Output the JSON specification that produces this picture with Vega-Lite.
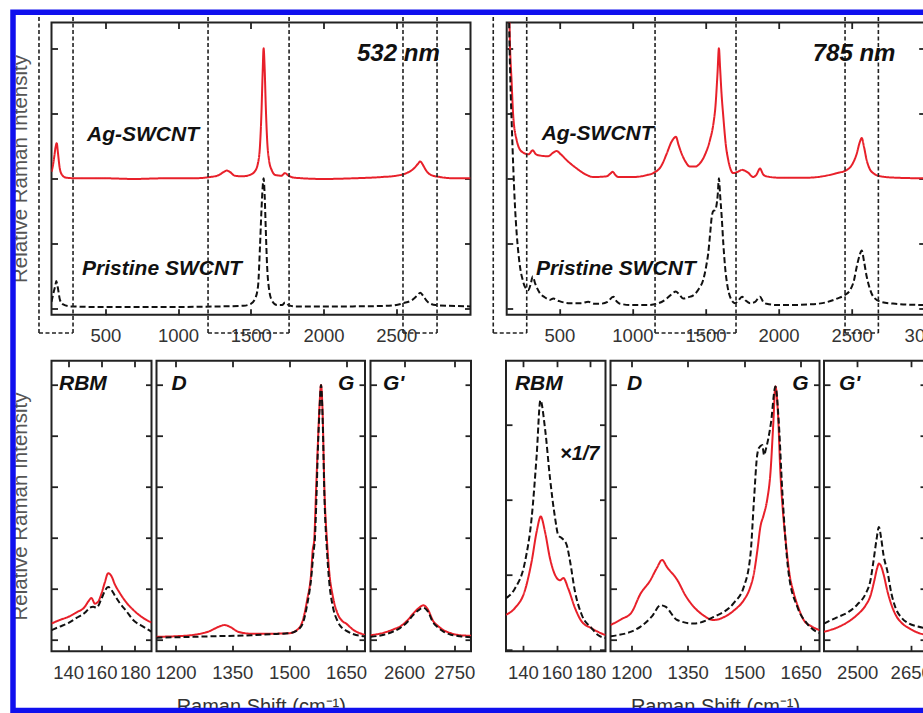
{
  "$schema": "https://vega.github.io/schema/vega-lite/v6.json",
  "autosize": {"type": "none"},
  "padding": {"left": 51.5, "top": 22.5, "right": 871.5, "bottom": 690.5},
  "background": "white",
  "datasets": {
    "top532": [
      {"shift":130,"intensity":2.1,"sample":"Ag-SWCNT"},{"shift":140,"intensity":2.2,"sample":"Ag-SWCNT"},{"shift":150,"intensity":2.35,"sample":"Ag-SWCNT"},{"shift":158,"intensity":2.48,"sample":"Ag-SWCNT"},{"shift":166,"intensity":2.54,"sample":"Ag-SWCNT"},{"shift":174,"intensity":2.4,"sample":"Ag-SWCNT"},{"shift":185,"intensity":2.18,"sample":"Ag-SWCNT"},{"shift":200,"intensity":2.06,"sample":"Ag-SWCNT"},{"shift":230,"intensity":2.01,"sample":"Ag-SWCNT"},{"shift":300,"intensity":2.0,"sample":"Ag-SWCNT"},{"shift":500,"intensity":2.0,"sample":"Ag-SWCNT"},{"shift":700,"intensity":1.99,"sample":"Ag-SWCNT"},{"shift":900,"intensity":2.0,"sample":"Ag-SWCNT"},{"shift":1100,"intensity":2.0,"sample":"Ag-SWCNT"},{"shift":1220,"intensity":2.02,"sample":"Ag-SWCNT"},{"shift":1280,"intensity":2.05,"sample":"Ag-SWCNT"},{"shift":1315,"intensity":2.1,"sample":"Ag-SWCNT"},{"shift":1335,"intensity":2.12,"sample":"Ag-SWCNT"},{"shift":1355,"intensity":2.1,"sample":"Ag-SWCNT"},{"shift":1390,"intensity":2.04,"sample":"Ag-SWCNT"},{"shift":1440,"intensity":2.03,"sample":"Ag-SWCNT"},{"shift":1490,"intensity":2.05,"sample":"Ag-SWCNT"},{"shift":1525,"intensity":2.1,"sample":"Ag-SWCNT"},{"shift":1548,"intensity":2.22,"sample":"Ag-SWCNT"},{"shift":1563,"intensity":2.5,"sample":"Ag-SWCNT"},{"shift":1573,"intensity":3.0,"sample":"Ag-SWCNT"},{"shift":1581,"intensity":3.6,"sample":"Ag-SWCNT"},{"shift":1588,"intensity":4.0,"sample":"Ag-SWCNT"},{"shift":1595,"intensity":3.7,"sample":"Ag-SWCNT"},{"shift":1603,"intensity":3.1,"sample":"Ag-SWCNT"},{"shift":1612,"intensity":2.6,"sample":"Ag-SWCNT"},{"shift":1625,"intensity":2.28,"sample":"Ag-SWCNT"},{"shift":1645,"intensity":2.12,"sample":"Ag-SWCNT"},{"shift":1670,"intensity":2.05,"sample":"Ag-SWCNT"},{"shift":1710,"intensity":2.04,"sample":"Ag-SWCNT"},{"shift":1735,"intensity":2.08,"sample":"Ag-SWCNT"},{"shift":1760,"intensity":2.04,"sample":"Ag-SWCNT"},{"shift":1800,"intensity":2.01,"sample":"Ag-SWCNT"},{"shift":2000,"intensity":1.99,"sample":"Ag-SWCNT"},{"shift":2200,"intensity":2.0,"sample":"Ag-SWCNT"},{"shift":2400,"intensity":2.02,"sample":"Ag-SWCNT"},{"shift":2500,"intensity":2.04,"sample":"Ag-SWCNT"},{"shift":2570,"intensity":2.08,"sample":"Ag-SWCNT"},{"shift":2620,"intensity":2.15,"sample":"Ag-SWCNT"},{"shift":2648,"intensity":2.22,"sample":"Ag-SWCNT"},{"shift":2665,"intensity":2.26,"sample":"Ag-SWCNT"},{"shift":2682,"intensity":2.21,"sample":"Ag-SWCNT"},{"shift":2705,"intensity":2.12,"sample":"Ag-SWCNT"},{"shift":2740,"intensity":2.05,"sample":"Ag-SWCNT"},{"shift":2800,"intensity":2.02,"sample":"Ag-SWCNT"},{"shift":2900,"intensity":2.0,"sample":"Ag-SWCNT"},{"shift":3010,"intensity":2.0,"sample":"Ag-SWCNT"},
      {"shift":130,"intensity":0.1,"sample":"Pristine SWCNT"},{"shift":145,"intensity":0.25,"sample":"Pristine SWCNT"},{"shift":157,"intensity":0.36,"sample":"Pristine SWCNT"},{"shift":163,"intensity":0.42,"sample":"Pristine SWCNT"},{"shift":168,"intensity":0.38,"sample":"Pristine SWCNT"},{"shift":175,"intensity":0.3,"sample":"Pristine SWCNT"},{"shift":188,"intensity":0.13,"sample":"Pristine SWCNT"},{"shift":210,"intensity":0.06,"sample":"Pristine SWCNT"},{"shift":260,"intensity":0.03,"sample":"Pristine SWCNT"},{"shift":500,"intensity":0.02,"sample":"Pristine SWCNT"},{"shift":900,"intensity":0.02,"sample":"Pristine SWCNT"},{"shift":1300,"intensity":0.03,"sample":"Pristine SWCNT"},{"shift":1450,"intensity":0.04,"sample":"Pristine SWCNT"},{"shift":1500,"intensity":0.07,"sample":"Pristine SWCNT"},{"shift":1530,"intensity":0.15,"sample":"Pristine SWCNT"},{"shift":1550,"intensity":0.35,"sample":"Pristine SWCNT"},{"shift":1563,"intensity":0.95,"sample":"Pristine SWCNT"},{"shift":1573,"intensity":1.5,"sample":"Pristine SWCNT"},{"shift":1581,"intensity":1.85,"sample":"Pristine SWCNT"},{"shift":1588,"intensity":2.0,"sample":"Pristine SWCNT"},{"shift":1595,"intensity":1.75,"sample":"Pristine SWCNT"},{"shift":1603,"intensity":1.2,"sample":"Pristine SWCNT"},{"shift":1612,"intensity":0.65,"sample":"Pristine SWCNT"},{"shift":1625,"intensity":0.3,"sample":"Pristine SWCNT"},{"shift":1645,"intensity":0.12,"sample":"Pristine SWCNT"},{"shift":1680,"intensity":0.05,"sample":"Pristine SWCNT"},{"shift":1715,"intensity":0.05,"sample":"Pristine SWCNT"},{"shift":1735,"intensity":0.09,"sample":"Pristine SWCNT"},{"shift":1760,"intensity":0.05,"sample":"Pristine SWCNT"},{"shift":1800,"intensity":0.03,"sample":"Pristine SWCNT"},{"shift":2200,"intensity":0.03,"sample":"Pristine SWCNT"},{"shift":2450,"intensity":0.04,"sample":"Pristine SWCNT"},{"shift":2550,"intensity":0.08,"sample":"Pristine SWCNT"},{"shift":2610,"intensity":0.13,"sample":"Pristine SWCNT"},{"shift":2645,"intensity":0.2,"sample":"Pristine SWCNT"},{"shift":2665,"intensity":0.24,"sample":"Pristine SWCNT"},{"shift":2688,"intensity":0.18,"sample":"Pristine SWCNT"},{"shift":2715,"intensity":0.1,"sample":"Pristine SWCNT"},{"shift":2770,"intensity":0.05,"sample":"Pristine SWCNT"},{"shift":3010,"intensity":0.03,"sample":"Pristine SWCNT"}
    ],
    "top785": [
      {"shift":140,"intensity":7.0,"sample":"Ag-SWCNT"},{"shift":152,"intensity":5.5,"sample":"Ag-SWCNT"},{"shift":160,"intensity":4.3,"sample":"Ag-SWCNT"},{"shift":174,"intensity":3.47,"sample":"Ag-SWCNT"},{"shift":185,"intensity":2.95,"sample":"Ag-SWCNT"},{"shift":208,"intensity":2.59,"sample":"Ag-SWCNT"},{"shift":243,"intensity":2.41,"sample":"Ag-SWCNT"},{"shift":290,"intensity":2.37,"sample":"Ag-SWCNT"},{"shift":318,"intensity":2.43,"sample":"Ag-SWCNT"},{"shift":340,"intensity":2.37,"sample":"Ag-SWCNT"},{"shift":368,"intensity":2.35,"sample":"Ag-SWCNT"},{"shift":425,"intensity":2.34,"sample":"Ag-SWCNT"},{"shift":455,"intensity":2.39,"sample":"Ag-SWCNT"},{"shift":482,"intensity":2.42,"sample":"Ag-SWCNT"},{"shift":510,"intensity":2.37,"sample":"Ag-SWCNT"},{"shift":550,"intensity":2.28,"sample":"Ag-SWCNT"},{"shift":620,"intensity":2.15,"sample":"Ag-SWCNT"},{"shift":680,"intensity":2.06,"sample":"Ag-SWCNT"},{"shift":733,"intensity":2.02,"sample":"Ag-SWCNT"},{"shift":824,"intensity":2.03,"sample":"Ag-SWCNT"},{"shift":848,"intensity":2.07,"sample":"Ag-SWCNT"},{"shift":865,"intensity":2.1,"sample":"Ag-SWCNT"},{"shift":884,"intensity":2.05,"sample":"Ag-SWCNT"},{"shift":904,"intensity":2.02,"sample":"Ag-SWCNT"},{"shift":1006,"intensity":2.02,"sample":"Ag-SWCNT"},{"shift":1100,"intensity":2.05,"sample":"Ag-SWCNT"},{"shift":1143,"intensity":2.08,"sample":"Ag-SWCNT"},{"shift":1200,"intensity":2.2,"sample":"Ag-SWCNT"},{"shift":1235,"intensity":2.38,"sample":"Ag-SWCNT"},{"shift":1265,"intensity":2.55,"sample":"Ag-SWCNT"},{"shift":1285,"intensity":2.62,"sample":"Ag-SWCNT"},{"shift":1298,"intensity":2.64,"sample":"Ag-SWCNT"},{"shift":1315,"intensity":2.52,"sample":"Ag-SWCNT"},{"shift":1337,"intensity":2.38,"sample":"Ag-SWCNT"},{"shift":1365,"intensity":2.25,"sample":"Ag-SWCNT"},{"shift":1394,"intensity":2.18,"sample":"Ag-SWCNT"},{"shift":1430,"intensity":2.18,"sample":"Ag-SWCNT"},{"shift":1462,"intensity":2.23,"sample":"Ag-SWCNT"},{"shift":1500,"intensity":2.38,"sample":"Ag-SWCNT"},{"shift":1531,"intensity":2.59,"sample":"Ag-SWCNT"},{"shift":1555,"intensity":2.85,"sample":"Ag-SWCNT"},{"shift":1568,"intensity":3.1,"sample":"Ag-SWCNT"},{"shift":1582,"intensity":3.6,"sample":"Ag-SWCNT"},{"shift":1592,"intensity":4.0,"sample":"Ag-SWCNT"},{"shift":1600,"intensity":3.7,"sample":"Ag-SWCNT"},{"shift":1610,"intensity":3.3,"sample":"Ag-SWCNT"},{"shift":1622,"intensity":2.95,"sample":"Ag-SWCNT"},{"shift":1640,"intensity":2.5,"sample":"Ag-SWCNT"},{"shift":1656,"intensity":2.28,"sample":"Ag-SWCNT"},{"shift":1690,"intensity":2.08,"sample":"Ag-SWCNT"},{"shift":1720,"intensity":2.1,"sample":"Ag-SWCNT"},{"shift":1750,"intensity":2.13,"sample":"Ag-SWCNT"},{"shift":1790,"intensity":2.09,"sample":"Ag-SWCNT"},{"shift":1827,"intensity":2.02,"sample":"Ag-SWCNT"},{"shift":1850,"intensity":2.06,"sample":"Ag-SWCNT"},{"shift":1873,"intensity":2.15,"sample":"Ag-SWCNT"},{"shift":1895,"intensity":2.06,"sample":"Ag-SWCNT"},{"shift":1919,"intensity":2.03,"sample":"Ag-SWCNT"},{"shift":2000,"intensity":2.01,"sample":"Ag-SWCNT"},{"shift":2200,"intensity":2.01,"sample":"Ag-SWCNT"},{"shift":2300,"intensity":2.03,"sample":"Ag-SWCNT"},{"shift":2398,"intensity":2.08,"sample":"Ag-SWCNT"},{"shift":2460,"intensity":2.12,"sample":"Ag-SWCNT"},{"shift":2500,"intensity":2.2,"sample":"Ag-SWCNT"},{"shift":2535,"intensity":2.38,"sample":"Ag-SWCNT"},{"shift":2555,"intensity":2.55,"sample":"Ag-SWCNT"},{"shift":2569,"intensity":2.62,"sample":"Ag-SWCNT"},{"shift":2585,"intensity":2.48,"sample":"Ag-SWCNT"},{"shift":2603,"intensity":2.28,"sample":"Ag-SWCNT"},{"shift":2625,"intensity":2.14,"sample":"Ag-SWCNT"},{"shift":2648,"intensity":2.08,"sample":"Ag-SWCNT"},{"shift":2700,"intensity":2.03,"sample":"Ag-SWCNT"},{"shift":2800,"intensity":2.01,"sample":"Ag-SWCNT"},{"shift":3000,"intensity":2.0,"sample":"Ag-SWCNT"},
      {"shift":140,"intensity":8.0,"sample":"Pristine SWCNT"},{"shift":156,"intensity":4.5,"sample":"Pristine SWCNT"},{"shift":165,"intensity":3.5,"sample":"Pristine SWCNT"},{"shift":175,"intensity":2.8,"sample":"Pristine SWCNT"},{"shift":185,"intensity":2.17,"sample":"Pristine SWCNT"},{"shift":196,"intensity":1.6,"sample":"Pristine SWCNT"},{"shift":208,"intensity":1.16,"sample":"Pristine SWCNT"},{"shift":220,"intensity":0.85,"sample":"Pristine SWCNT"},{"shift":231,"intensity":0.64,"sample":"Pristine SWCNT"},{"shift":248,"intensity":0.45,"sample":"Pristine SWCNT"},{"shift":265,"intensity":0.33,"sample":"Pristine SWCNT"},{"shift":288,"intensity":0.28,"sample":"Pristine SWCNT"},{"shift":305,"intensity":0.38,"sample":"Pristine SWCNT"},{"shift":318,"intensity":0.49,"sample":"Pristine SWCNT"},{"shift":335,"intensity":0.38,"sample":"Pristine SWCNT"},{"shift":368,"intensity":0.23,"sample":"Pristine SWCNT"},{"shift":400,"intensity":0.17,"sample":"Pristine SWCNT"},{"shift":436,"intensity":0.13,"sample":"Pristine SWCNT"},{"shift":459,"intensity":0.15,"sample":"Pristine SWCNT"},{"shift":500,"intensity":0.11,"sample":"Pristine SWCNT"},{"shift":573,"intensity":0.08,"sample":"Pristine SWCNT"},{"shift":650,"intensity":0.08,"sample":"Pristine SWCNT"},{"shift":698,"intensity":0.1,"sample":"Pristine SWCNT"},{"shift":740,"intensity":0.07,"sample":"Pristine SWCNT"},{"shift":778,"intensity":0.07,"sample":"Pristine SWCNT"},{"shift":830,"intensity":0.1,"sample":"Pristine SWCNT"},{"shift":869,"intensity":0.18,"sample":"Pristine SWCNT"},{"shift":895,"intensity":0.1,"sample":"Pristine SWCNT"},{"shift":915,"intensity":0.07,"sample":"Pristine SWCNT"},{"shift":1000,"intensity":0.05,"sample":"Pristine SWCNT"},{"shift":1099,"intensity":0.05,"sample":"Pristine SWCNT"},{"shift":1180,"intensity":0.08,"sample":"Pristine SWCNT"},{"shift":1235,"intensity":0.15,"sample":"Pristine SWCNT"},{"shift":1270,"intensity":0.22,"sample":"Pristine SWCNT"},{"shift":1298,"intensity":0.26,"sample":"Pristine SWCNT"},{"shift":1325,"intensity":0.2,"sample":"Pristine SWCNT"},{"shift":1348,"intensity":0.15,"sample":"Pristine SWCNT"},{"shift":1380,"intensity":0.17,"sample":"Pristine SWCNT"},{"shift":1417,"intensity":0.2,"sample":"Pristine SWCNT"},{"shift":1455,"intensity":0.3,"sample":"Pristine SWCNT"},{"shift":1485,"intensity":0.44,"sample":"Pristine SWCNT"},{"shift":1505,"intensity":0.65,"sample":"Pristine SWCNT"},{"shift":1519,"intensity":0.85,"sample":"Pristine SWCNT"},{"shift":1532,"intensity":1.15,"sample":"Pristine SWCNT"},{"shift":1543,"intensity":1.41,"sample":"Pristine SWCNT"},{"shift":1555,"intensity":1.5,"sample":"Pristine SWCNT"},{"shift":1565,"intensity":1.51,"sample":"Pristine SWCNT"},{"shift":1575,"intensity":1.58,"sample":"Pristine SWCNT"},{"shift":1584,"intensity":1.75,"sample":"Pristine SWCNT"},{"shift":1592,"intensity":2.0,"sample":"Pristine SWCNT"},{"shift":1600,"intensity":1.75,"sample":"Pristine SWCNT"},{"shift":1611,"intensity":1.41,"sample":"Pristine SWCNT"},{"shift":1622,"intensity":1.0,"sample":"Pristine SWCNT"},{"shift":1634,"intensity":0.64,"sample":"Pristine SWCNT"},{"shift":1650,"intensity":0.35,"sample":"Pristine SWCNT"},{"shift":1668,"intensity":0.18,"sample":"Pristine SWCNT"},{"shift":1702,"intensity":0.08,"sample":"Pristine SWCNT"},{"shift":1725,"intensity":0.12,"sample":"Pristine SWCNT"},{"shift":1750,"intensity":0.18,"sample":"Pristine SWCNT"},{"shift":1775,"intensity":0.12,"sample":"Pristine SWCNT"},{"shift":1805,"intensity":0.08,"sample":"Pristine SWCNT"},{"shift":1840,"intensity":0.1,"sample":"Pristine SWCNT"},{"shift":1873,"intensity":0.18,"sample":"Pristine SWCNT"},{"shift":1895,"intensity":0.1,"sample":"Pristine SWCNT"},{"shift":1919,"intensity":0.07,"sample":"Pristine SWCNT"},{"shift":2000,"intensity":0.05,"sample":"Pristine SWCNT"},{"shift":2100,"intensity":0.05,"sample":"Pristine SWCNT"},{"shift":2200,"intensity":0.06,"sample":"Pristine SWCNT"},{"shift":2300,"intensity":0.08,"sample":"Pristine SWCNT"},{"shift":2400,"intensity":0.15,"sample":"Pristine SWCNT"},{"shift":2450,"intensity":0.2,"sample":"Pristine SWCNT"},{"shift":2489,"intensity":0.28,"sample":"Pristine SWCNT"},{"shift":2515,"intensity":0.42,"sample":"Pristine SWCNT"},{"shift":2535,"intensity":0.64,"sample":"Pristine SWCNT"},{"shift":2555,"intensity":0.82,"sample":"Pristine SWCNT"},{"shift":2569,"intensity":0.89,"sample":"Pristine SWCNT"},{"shift":2585,"intensity":0.72,"sample":"Pristine SWCNT"},{"shift":2603,"intensity":0.49,"sample":"Pristine SWCNT"},{"shift":2625,"intensity":0.3,"sample":"Pristine SWCNT"},{"shift":2648,"intensity":0.18,"sample":"Pristine SWCNT"},{"shift":2700,"intensity":0.1,"sample":"Pristine SWCNT"},{"shift":2800,"intensity":0.07,"sample":"Pristine SWCNT"},{"shift":3000,"intensity":0.05,"sample":"Pristine SWCNT"}
    ],
    "rbm532": [
      {"shift":130,"intensity":0.31,"sample":"Ag-SWCNT"},{"shift":135,"intensity":0.38,"sample":"Ag-SWCNT"},{"shift":140,"intensity":0.44,"sample":"Ag-SWCNT"},{"shift":145,"intensity":0.53,"sample":"Ag-SWCNT"},{"shift":150,"intensity":0.64,"sample":"Ag-SWCNT"},{"shift":152,"intensity":0.74,"sample":"Ag-SWCNT"},{"shift":154,"intensity":0.81,"sample":"Ag-SWCNT"},{"shift":156,"intensity":0.7,"sample":"Ag-SWCNT"},{"shift":158,"intensity":0.74,"sample":"Ag-SWCNT"},{"shift":160,"intensity":0.9,"sample":"Ag-SWCNT"},{"shift":162,"intensity":1.12,"sample":"Ag-SWCNT"},{"shift":164,"intensity":1.3,"sample":"Ag-SWCNT"},{"shift":166,"intensity":1.24,"sample":"Ag-SWCNT"},{"shift":168,"intensity":1.08,"sample":"Ag-SWCNT"},{"shift":171,"intensity":0.91,"sample":"Ag-SWCNT"},{"shift":175,"intensity":0.72,"sample":"Ag-SWCNT"},{"shift":179,"intensity":0.58,"sample":"Ag-SWCNT"},{"shift":185,"intensity":0.42,"sample":"Ag-SWCNT"},{"shift":190,"intensity":0.33,"sample":"Ag-SWCNT"},
      {"shift":130,"intensity":0.18,"sample":"Pristine SWCNT"},{"shift":135,"intensity":0.25,"sample":"Pristine SWCNT"},{"shift":140,"intensity":0.32,"sample":"Pristine SWCNT"},{"shift":145,"intensity":0.42,"sample":"Pristine SWCNT"},{"shift":150,"intensity":0.52,"sample":"Pristine SWCNT"},{"shift":153,"intensity":0.62,"sample":"Pristine SWCNT"},{"shift":155,"intensity":0.64,"sample":"Pristine SWCNT"},{"shift":157,"intensity":0.62,"sample":"Pristine SWCNT"},{"shift":160,"intensity":0.8,"sample":"Pristine SWCNT"},{"shift":162,"intensity":0.95,"sample":"Pristine SWCNT"},{"shift":164,"intensity":1.03,"sample":"Pristine SWCNT"},{"shift":166,"intensity":0.97,"sample":"Pristine SWCNT"},{"shift":168,"intensity":0.86,"sample":"Pristine SWCNT"},{"shift":171,"intensity":0.71,"sample":"Pristine SWCNT"},{"shift":175,"intensity":0.55,"sample":"Pristine SWCNT"},{"shift":179,"intensity":0.38,"sample":"Pristine SWCNT"},{"shift":185,"intensity":0.25,"sample":"Pristine SWCNT"},{"shift":190,"intensity":0.15,"sample":"Pristine SWCNT"}
    ],
    "dg532": [
      {"shift":1150,"intensity":0.05,"sample":"Ag-SWCNT"},{"shift":1200,"intensity":0.06,"sample":"Ag-SWCNT"},{"shift":1250,"intensity":0.09,"sample":"Ag-SWCNT"},{"shift":1290,"intensity":0.16,"sample":"Ag-SWCNT"},{"shift":1315,"intensity":0.25,"sample":"Ag-SWCNT"},{"shift":1330,"intensity":0.28,"sample":"Ag-SWCNT"},{"shift":1345,"intensity":0.24,"sample":"Ag-SWCNT"},{"shift":1365,"intensity":0.15,"sample":"Ag-SWCNT"},{"shift":1400,"intensity":0.11,"sample":"Ag-SWCNT"},{"shift":1450,"intensity":0.11,"sample":"Ag-SWCNT"},{"shift":1500,"intensity":0.12,"sample":"Ag-SWCNT"},{"shift":1520,"intensity":0.18,"sample":"Ag-SWCNT"},{"shift":1535,"intensity":0.35,"sample":"Ag-SWCNT"},{"shift":1548,"intensity":0.8,"sample":"Ag-SWCNT"},{"shift":1558,"intensity":1.3,"sample":"Ag-SWCNT"},{"shift":1562,"intensity":1.75,"sample":"Ag-SWCNT"},{"shift":1566,"intensity":1.95,"sample":"Ag-SWCNT"},{"shift":1571,"intensity":2.94,"sample":"Ag-SWCNT"},{"shift":1576,"intensity":3.9,"sample":"Ag-SWCNT"},{"shift":1580,"intensity":4.6,"sample":"Ag-SWCNT"},{"shift":1584,"intensity":5.0,"sample":"Ag-SWCNT"},{"shift":1588,"intensity":4.5,"sample":"Ag-SWCNT"},{"shift":1593,"intensity":2.94,"sample":"Ag-SWCNT"},{"shift":1600,"intensity":1.9,"sample":"Ag-SWCNT"},{"shift":1606,"intensity":1.3,"sample":"Ag-SWCNT"},{"shift":1615,"intensity":0.85,"sample":"Ag-SWCNT"},{"shift":1628,"intensity":0.5,"sample":"Ag-SWCNT"},{"shift":1640,"intensity":0.36,"sample":"Ag-SWCNT"},{"shift":1650,"intensity":0.31,"sample":"Ag-SWCNT"},{"shift":1670,"intensity":0.18,"sample":"Ag-SWCNT"},{"shift":1700,"intensity":0.09,"sample":"Ag-SWCNT"},
      {"shift":1150,"intensity":0.03,"sample":"Pristine SWCNT"},{"shift":1200,"intensity":0.04,"sample":"Pristine SWCNT"},{"shift":1300,"intensity":0.06,"sample":"Pristine SWCNT"},{"shift":1400,"intensity":0.08,"sample":"Pristine SWCNT"},{"shift":1450,"intensity":0.1,"sample":"Pristine SWCNT"},{"shift":1500,"intensity":0.12,"sample":"Pristine SWCNT"},{"shift":1520,"intensity":0.17,"sample":"Pristine SWCNT"},{"shift":1535,"intensity":0.3,"sample":"Pristine SWCNT"},{"shift":1548,"intensity":0.7,"sample":"Pristine SWCNT"},{"shift":1558,"intensity":1.2,"sample":"Pristine SWCNT"},{"shift":1564,"intensity":1.7,"sample":"Pristine SWCNT"},{"shift":1568,"intensity":2.0,"sample":"Pristine SWCNT"},{"shift":1572,"intensity":2.8,"sample":"Pristine SWCNT"},{"shift":1576,"intensity":3.8,"sample":"Pristine SWCNT"},{"shift":1580,"intensity":4.5,"sample":"Pristine SWCNT"},{"shift":1584,"intensity":5.0,"sample":"Pristine SWCNT"},{"shift":1588,"intensity":4.4,"sample":"Pristine SWCNT"},{"shift":1593,"intensity":2.8,"sample":"Pristine SWCNT"},{"shift":1600,"intensity":1.7,"sample":"Pristine SWCNT"},{"shift":1606,"intensity":1.1,"sample":"Pristine SWCNT"},{"shift":1615,"intensity":0.65,"sample":"Pristine SWCNT"},{"shift":1628,"intensity":0.35,"sample":"Pristine SWCNT"},{"shift":1640,"intensity":0.22,"sample":"Pristine SWCNT"},{"shift":1650,"intensity":0.17,"sample":"Pristine SWCNT"},{"shift":1670,"intensity":0.1,"sample":"Pristine SWCNT"},{"shift":1700,"intensity":0.06,"sample":"Pristine SWCNT"}
    ],
    "gp532": [
      {"shift":2500,"intensity":0.08,"sample":"Ag-SWCNT"},{"shift":2540,"intensity":0.13,"sample":"Ag-SWCNT"},{"shift":2570,"intensity":0.2,"sample":"Ag-SWCNT"},{"shift":2588,"intensity":0.25,"sample":"Ag-SWCNT"},{"shift":2610,"intensity":0.37,"sample":"Ag-SWCNT"},{"shift":2628,"intensity":0.51,"sample":"Ag-SWCNT"},{"shift":2645,"intensity":0.62,"sample":"Ag-SWCNT"},{"shift":2658,"intensity":0.67,"sample":"Ag-SWCNT"},{"shift":2670,"intensity":0.6,"sample":"Ag-SWCNT"},{"shift":2688,"intensity":0.35,"sample":"Ag-SWCNT"},{"shift":2700,"intensity":0.27,"sample":"Ag-SWCNT"},{"shift":2718,"intensity":0.18,"sample":"Ag-SWCNT"},{"shift":2740,"intensity":0.12,"sample":"Ag-SWCNT"},{"shift":2767,"intensity":0.08,"sample":"Ag-SWCNT"},{"shift":2800,"intensity":0.07,"sample":"Ag-SWCNT"},
      {"shift":2500,"intensity":0.05,"sample":"Pristine SWCNT"},{"shift":2540,"intensity":0.09,"sample":"Pristine SWCNT"},{"shift":2570,"intensity":0.16,"sample":"Pristine SWCNT"},{"shift":2588,"intensity":0.22,"sample":"Pristine SWCNT"},{"shift":2610,"intensity":0.34,"sample":"Pristine SWCNT"},{"shift":2628,"intensity":0.48,"sample":"Pristine SWCNT"},{"shift":2645,"intensity":0.58,"sample":"Pristine SWCNT"},{"shift":2658,"intensity":0.62,"sample":"Pristine SWCNT"},{"shift":2670,"intensity":0.56,"sample":"Pristine SWCNT"},{"shift":2688,"intensity":0.32,"sample":"Pristine SWCNT"},{"shift":2700,"intensity":0.24,"sample":"Pristine SWCNT"},{"shift":2718,"intensity":0.15,"sample":"Pristine SWCNT"},{"shift":2740,"intensity":0.09,"sample":"Pristine SWCNT"},{"shift":2767,"intensity":0.06,"sample":"Pristine SWCNT"},{"shift":2800,"intensity":0.04,"sample":"Pristine SWCNT"}
    ],
    "rbm785": [
      {"shift":130,"intensity":0.47,"sample":"Ag-SWCNT"},{"shift":135.3,"intensity":0.56,"sample":"Ag-SWCNT"},{"shift":141.3,"intensity":0.8,"sample":"Ag-SWCNT"},{"shift":145.2,"intensity":1.18,"sample":"Ag-SWCNT"},{"shift":148.2,"intensity":1.58,"sample":"Ag-SWCNT"},{"shift":150.6,"intensity":1.78,"sample":"Ag-SWCNT"},{"shift":153.1,"intensity":1.58,"sample":"Ag-SWCNT"},{"shift":156.1,"intensity":1.22,"sample":"Ag-SWCNT"},{"shift":159.1,"intensity":1.0,"sample":"Ag-SWCNT"},{"shift":162,"intensity":0.93,"sample":"Ag-SWCNT"},{"shift":164,"intensity":0.96,"sample":"Ag-SWCNT"},{"shift":166.9,"intensity":0.82,"sample":"Ag-SWCNT"},{"shift":170.9,"intensity":0.56,"sample":"Ag-SWCNT"},{"shift":174.9,"intensity":0.38,"sample":"Ag-SWCNT"},{"shift":180.8,"intensity":0.29,"sample":"Ag-SWCNT"},{"shift":186.7,"intensity":0.22,"sample":"Ag-SWCNT"},{"shift":189,"intensity":0.2,"sample":"Ag-SWCNT"},
      {"shift":130,"intensity":0.69,"sample":"Pristine SWCNT"},{"shift":135.3,"intensity":0.82,"sample":"Pristine SWCNT"},{"shift":141.3,"intensity":1.18,"sample":"Pristine SWCNT"},{"shift":145.2,"intensity":1.76,"sample":"Pristine SWCNT"},{"shift":148.2,"intensity":2.6,"sample":"Pristine SWCNT"},{"shift":150.4,"intensity":3.33,"sample":"Pristine SWCNT"},{"shift":153.1,"intensity":2.96,"sample":"Pristine SWCNT"},{"shift":156.1,"intensity":2.29,"sample":"Pristine SWCNT"},{"shift":159.1,"intensity":1.76,"sample":"Pristine SWCNT"},{"shift":161,"intensity":1.53,"sample":"Pristine SWCNT"},{"shift":163.2,"intensity":1.49,"sample":"Pristine SWCNT"},{"shift":166,"intensity":1.4,"sample":"Pristine SWCNT"},{"shift":168,"intensity":1.18,"sample":"Pristine SWCNT"},{"shift":170.9,"intensity":0.78,"sample":"Pristine SWCNT"},{"shift":174.9,"intensity":0.47,"sample":"Pristine SWCNT"},{"shift":180.8,"intensity":0.29,"sample":"Pristine SWCNT"},{"shift":184.5,"intensity":0.2,"sample":"Pristine SWCNT"},{"shift":189,"intensity":0.16,"sample":"Pristine SWCNT"}
    ],
    "dg785": [
      {"shift":1145,"intensity":0.28,"sample":"Ag-SWCNT"},{"shift":1175,"intensity":0.4,"sample":"Ag-SWCNT"},{"shift":1200,"intensity":0.52,"sample":"Ag-SWCNT"},{"shift":1225,"intensity":0.9,"sample":"Ag-SWCNT"},{"shift":1250,"intensity":1.15,"sample":"Ag-SWCNT"},{"shift":1268,"intensity":1.4,"sample":"Ag-SWCNT"},{"shift":1282,"intensity":1.56,"sample":"Ag-SWCNT"},{"shift":1295,"intensity":1.42,"sample":"Ag-SWCNT"},{"shift":1322,"intensity":1.17,"sample":"Ag-SWCNT"},{"shift":1345,"intensity":0.85,"sample":"Ag-SWCNT"},{"shift":1366,"intensity":0.64,"sample":"Ag-SWCNT"},{"shift":1390,"intensity":0.48,"sample":"Ag-SWCNT"},{"shift":1419,"intensity":0.38,"sample":"Ag-SWCNT"},{"shift":1450,"intensity":0.45,"sample":"Ag-SWCNT"},{"shift":1475,"intensity":0.58,"sample":"Ag-SWCNT"},{"shift":1499,"intensity":0.77,"sample":"Ag-SWCNT"},{"shift":1515,"intensity":1.0,"sample":"Ag-SWCNT"},{"shift":1526,"intensity":1.3,"sample":"Ag-SWCNT"},{"shift":1535,"intensity":1.75,"sample":"Ag-SWCNT"},{"shift":1543,"intensity":2.21,"sample":"Ag-SWCNT"},{"shift":1552,"intensity":2.45,"sample":"Ag-SWCNT"},{"shift":1561,"intensity":2.74,"sample":"Ag-SWCNT"},{"shift":1570,"intensity":3.3,"sample":"Ag-SWCNT"},{"shift":1577,"intensity":4.2,"sample":"Ag-SWCNT"},{"shift":1583,"intensity":4.97,"sample":"Ag-SWCNT"},{"shift":1590,"intensity":4.4,"sample":"Ag-SWCNT"},{"shift":1596,"intensity":3.3,"sample":"Ag-SWCNT"},{"shift":1603,"intensity":2.5,"sample":"Ag-SWCNT"},{"shift":1610,"intensity":1.95,"sample":"Ag-SWCNT"},{"shift":1620,"intensity":1.3,"sample":"Ag-SWCNT"},{"shift":1632,"intensity":0.9,"sample":"Ag-SWCNT"},{"shift":1645,"intensity":0.6,"sample":"Ag-SWCNT"},{"shift":1658,"intensity":0.38,"sample":"Ag-SWCNT"},{"shift":1680,"intensity":0.25,"sample":"Ag-SWCNT"},{"shift":1700,"intensity":0.18,"sample":"Ag-SWCNT"},
      {"shift":1145,"intensity":0.06,"sample":"Pristine SWCNT"},{"shift":1163,"intensity":0.08,"sample":"Pristine SWCNT"},{"shift":1200,"intensity":0.15,"sample":"Pristine SWCNT"},{"shift":1225,"intensity":0.25,"sample":"Pristine SWCNT"},{"shift":1255,"intensity":0.45,"sample":"Pristine SWCNT"},{"shift":1278,"intensity":0.67,"sample":"Pristine SWCNT"},{"shift":1291,"intensity":0.64,"sample":"Pristine SWCNT"},{"shift":1322,"intensity":0.38,"sample":"Pristine SWCNT"},{"shift":1366,"intensity":0.31,"sample":"Pristine SWCNT"},{"shift":1419,"intensity":0.44,"sample":"Pristine SWCNT"},{"shift":1472,"intensity":0.71,"sample":"Pristine SWCNT"},{"shift":1499,"intensity":1.03,"sample":"Pristine SWCNT"},{"shift":1517,"intensity":1.69,"sample":"Pristine SWCNT"},{"shift":1526,"intensity":2.74,"sample":"Pristine SWCNT"},{"shift":1534,"intensity":3.59,"sample":"Pristine SWCNT"},{"shift":1539,"intensity":3.76,"sample":"Pristine SWCNT"},{"shift":1548,"intensity":3.82,"sample":"Pristine SWCNT"},{"shift":1553,"intensity":3.62,"sample":"Pristine SWCNT"},{"shift":1557,"intensity":3.72,"sample":"Pristine SWCNT"},{"shift":1571,"intensity":4.25,"sample":"Pristine SWCNT"},{"shift":1583,"intensity":4.97,"sample":"Pristine SWCNT"},{"shift":1592,"intensity":4.25,"sample":"Pristine SWCNT"},{"shift":1601,"intensity":2.94,"sample":"Pristine SWCNT"},{"shift":1618,"intensity":1.3,"sample":"Pristine SWCNT"},{"shift":1641,"intensity":0.64,"sample":"Pristine SWCNT"},{"shift":1667,"intensity":0.31,"sample":"Pristine SWCNT"},{"shift":1698,"intensity":0.12,"sample":"Pristine SWCNT"}
    ],
    "gp785": [
      {"shift":2407,"intensity":0.15,"sample":"Ag-SWCNT"},{"shift":2440,"intensity":0.22,"sample":"Ag-SWCNT"},{"shift":2476,"intensity":0.35,"sample":"Ag-SWCNT"},{"shift":2500,"intensity":0.48,"sample":"Ag-SWCNT"},{"shift":2524,"intensity":0.67,"sample":"Ag-SWCNT"},{"shift":2537,"intensity":0.85,"sample":"Ag-SWCNT"},{"shift":2548,"intensity":1.15,"sample":"Ag-SWCNT"},{"shift":2556,"intensity":1.4,"sample":"Ag-SWCNT"},{"shift":2561,"intensity":1.49,"sample":"Ag-SWCNT"},{"shift":2567,"intensity":1.44,"sample":"Ag-SWCNT"},{"shift":2574,"intensity":1.28,"sample":"Ag-SWCNT"},{"shift":2585,"intensity":0.94,"sample":"Ag-SWCNT"},{"shift":2596,"intensity":0.68,"sample":"Ag-SWCNT"},{"shift":2608,"intensity":0.48,"sample":"Ag-SWCNT"},{"shift":2625,"intensity":0.32,"sample":"Ag-SWCNT"},{"shift":2645,"intensity":0.22,"sample":"Ag-SWCNT"},{"shift":2670,"intensity":0.13,"sample":"Ag-SWCNT"},{"shift":2700,"intensity":0.08,"sample":"Ag-SWCNT"},
      {"shift":2407,"intensity":0.31,"sample":"Pristine SWCNT"},{"shift":2440,"intensity":0.42,"sample":"Pristine SWCNT"},{"shift":2476,"intensity":0.54,"sample":"Pristine SWCNT"},{"shift":2500,"intensity":0.68,"sample":"Pristine SWCNT"},{"shift":2524,"intensity":0.9,"sample":"Pristine SWCNT"},{"shift":2537,"intensity":1.15,"sample":"Pristine SWCNT"},{"shift":2546,"intensity":1.55,"sample":"Pristine SWCNT"},{"shift":2554,"intensity":1.95,"sample":"Pristine SWCNT"},{"shift":2561,"intensity":2.21,"sample":"Pristine SWCNT"},{"shift":2567,"intensity":2.0,"sample":"Pristine SWCNT"},{"shift":2574,"intensity":1.65,"sample":"Pristine SWCNT"},{"shift":2585,"intensity":1.33,"sample":"Pristine SWCNT"},{"shift":2596,"intensity":0.9,"sample":"Pristine SWCNT"},{"shift":2608,"intensity":0.61,"sample":"Pristine SWCNT"},{"shift":2625,"intensity":0.42,"sample":"Pristine SWCNT"},{"shift":2645,"intensity":0.31,"sample":"Pristine SWCNT"},{"shift":2670,"intensity":0.25,"sample":"Pristine SWCNT"},{"shift":2700,"intensity":0.21,"sample":"Pristine SWCNT"}
    ],
    "boxes532": [{"lo":44,"hi":278},{"lo":1206,"hi":1763},{"lo":2546,"hi":2780}],
    "boxes785": [{"lo":48,"hi":277},{"lo":1155,"hi":1709},{"lo":2455,"hi":2683}]
  },
  "vconcat": [
    {
      "hconcat": [
        {
          "width": 419, "height": 292.2,
          "layer": [
            {"data": {"name": "top532"}, "mark": {"type": "line", "clip": true, "strokeWidth": 2, "interpolate": "monotone"},
             "encoding": {
               "x": {"field": "shift", "type": "quantitative", "scale": {"domain": [130, 3010], "nice": false, "zero": false}, "axis": {"orient": "bottom", "values": [500, 1000, 1500, 2000, 2500], "format": "d", "title": null}},
               "y": {"field": "intensity", "type": "quantitative", "scale": {"domain": [-0.098, 4.397], "nice": false, "zero": false}, "axis": {"orient": "left", "values": [0, 1, 2, 3, 4], "labels": false, "title": "Relative Raman Intensity", "titleX": -21, "titleY": 146, "titleAngle": -90, "titleAlign": "center", "titleBaseline": "bottom", "titleFontSize": 20.5, "titleFontWeight": "normal", "titleColor": "#555555", "titleFont": "Liberation Sans"}},
               "color": {"field": "sample", "type": "nominal", "scale": {"domain": ["Ag-SWCNT", "Pristine SWCNT"], "range": ["#e8202a", "#111111"]}, "legend": null},
               "strokeDash": {"field": "sample", "type": "nominal", "scale": {"domain": ["Ag-SWCNT", "Pristine SWCNT"], "range": [[1, 0], [6, 3]]}, "legend": null}
             }},
            {"data": {"name": "boxes532"}, "mark": {"type": "rule", "strokeDash": [4, 2.5], "strokeWidth": 1.6, "color": "#222222", "clip": false},
             "encoding": {
               "x": {"field": "lo", "type": "quantitative", "axis": {"orient": "top", "values": [500, 1000, 1500, 2000, 2500], "labels": false, "title": null}},
               "y": {"datum": -0.38, "type": "quantitative", "axis": {"orient": "right", "values": [0, 1, 2, 3, 4], "labels": false, "title": null}},
               "y2": {"datum": 4.52}
             }},
            {"data": {"name": "boxes532"}, "mark": {"type": "rule", "strokeDash": [4, 2.5], "strokeWidth": 1.6, "color": "#222222", "clip": false},
             "encoding": {"x": {"field": "hi", "type": "quantitative", "axis": null}, "y": {"datum": -0.38, "type": "quantitative", "axis": null}, "y2": {"datum": 4.52}}},
            {"data": {"name": "boxes532"}, "mark": {"type": "rule", "strokeDash": [4, 2.5], "strokeWidth": 1.6, "color": "#222222", "clip": false},
             "encoding": {"x": {"field": "lo", "type": "quantitative", "axis": null}, "x2": {"field": "hi"}, "y": {"datum": -0.38, "type": "quantitative", "axis": null}}},
            {"data": {"values": [{}]}, "mark": {"type": "text", "text": "532 nm", "align": "left", "baseline": "alphabetic", "fontSize": 24, "fontStyle": "italic", "fontWeight": "bold", "font": "Liberation Sans", "color": "#111111"},
             "encoding": {"x": {"datum": 2230, "type": "quantitative", "axis": null}, "y": {"datum": 3.8, "type": "quantitative", "axis": null}}},
            {"data": {"values": [{}]}, "mark": {"type": "text", "text": "Ag-SWCNT", "align": "left", "baseline": "alphabetic", "fontSize": 21, "fontStyle": "italic", "fontWeight": "bold", "font": "Liberation Sans", "color": "#111111"},
             "encoding": {"x": {"datum": 374, "type": "quantitative", "axis": null}, "y": {"datum": 2.57, "type": "quantitative", "axis": null}}},
            {"data": {"values": [{}]}, "mark": {"type": "text", "text": "Pristine SWCNT", "align": "left", "baseline": "alphabetic", "fontSize": 21, "fontStyle": "italic", "fontWeight": "bold", "font": "Liberation Sans", "color": "#111111"},
             "encoding": {"x": {"datum": 340, "type": "quantitative", "axis": null}, "y": {"datum": 0.51, "type": "quantitative", "axis": null}}}
          ],
          "resolve": {"axis": {"x": "independent", "y": "independent"}}
        },
        {
          "width": 418, "height": 292.2,
          "layer": [
            {"data": {"name": "top785"}, "mark": {"type": "line", "clip": true, "strokeWidth": 2, "interpolate": "monotone"},
             "encoding": {
               "x": {"field": "shift", "type": "quantitative", "scale": {"domain": [140, 3000], "nice": false, "zero": false}, "axis": {"orient": "bottom", "values": [500, 1000, 1500, 2000, 2500, 3000], "format": "d", "title": null}},
               "y": {"field": "intensity", "type": "quantitative", "scale": {"domain": [-0.098, 4.397], "nice": false, "zero": false}, "axis": {"orient": "left", "values": [0, 1, 2, 3, 4], "labels": false, "title": null}},
               "color": {"field": "sample", "type": "nominal", "scale": {"domain": ["Ag-SWCNT", "Pristine SWCNT"], "range": ["#e8202a", "#111111"]}, "legend": null},
               "strokeDash": {"field": "sample", "type": "nominal", "scale": {"domain": ["Ag-SWCNT", "Pristine SWCNT"], "range": [[1, 0], [6, 3]]}, "legend": null}
             }},
            {"data": {"name": "boxes785"}, "mark": {"type": "rule", "strokeDash": [4, 2.5], "strokeWidth": 1.6, "color": "#222222", "clip": false},
             "encoding": {
               "x": {"field": "lo", "type": "quantitative", "axis": {"orient": "top", "values": [500, 1000, 1500, 2000, 2500, 3000], "labels": false, "title": null}},
               "y": {"datum": -0.38, "type": "quantitative", "axis": {"orient": "right", "values": [0, 1, 2, 3, 4], "labels": false, "title": null}},
               "y2": {"datum": 4.52}
             }},
            {"data": {"name": "boxes785"}, "mark": {"type": "rule", "strokeDash": [4, 2.5], "strokeWidth": 1.6, "color": "#222222", "clip": false},
             "encoding": {"x": {"field": "hi", "type": "quantitative", "axis": null}, "y": {"datum": -0.38, "type": "quantitative", "axis": null}, "y2": {"datum": 4.52}}},
            {"data": {"name": "boxes785"}, "mark": {"type": "rule", "strokeDash": [4, 2.5], "strokeWidth": 1.6, "color": "#222222", "clip": false},
             "encoding": {"x": {"field": "lo", "type": "quantitative", "axis": null}, "x2": {"field": "hi"}, "y": {"datum": -0.38, "type": "quantitative", "axis": null}}},
            {"data": {"values": [{}]}, "mark": {"type": "text", "text": "785 nm", "align": "left", "baseline": "alphabetic", "fontSize": 24, "fontStyle": "italic", "fontWeight": "bold", "font": "Liberation Sans", "color": "#111111"},
             "encoding": {"x": {"datum": 2234, "type": "quantitative", "axis": null}, "y": {"datum": 3.8, "type": "quantitative", "axis": null}}},
            {"data": {"values": [{}]}, "mark": {"type": "text", "text": "Ag-SWCNT", "align": "left", "baseline": "alphabetic", "fontSize": 21, "fontStyle": "italic", "fontWeight": "bold", "font": "Liberation Sans", "color": "#111111"},
             "encoding": {"x": {"datum": 379, "type": "quantitative", "axis": null}, "y": {"datum": 2.59, "type": "quantitative", "axis": null}}},
            {"data": {"values": [{}]}, "mark": {"type": "text", "text": "Pristine SWCNT", "align": "left", "baseline": "alphabetic", "fontSize": 21, "fontStyle": "italic", "fontWeight": "bold", "font": "Liberation Sans", "color": "#111111"},
             "encoding": {"x": {"datum": 340, "type": "quantitative", "axis": null}, "y": {"datum": 0.51, "type": "quantitative", "axis": null}}}
          ],
          "resolve": {"axis": {"x": "independent", "y": "independent"}}
        }
      ],
      "spacing": 36.2, "bounds": "flush"
    },
    {
      "hconcat": [
        {
          "hconcat": [
            {
              "width": 100, "height": 290.6,
              "layer": [
                {"data": {"name": "rbm532"}, "mark": {"type": "line", "clip": true, "strokeWidth": 2, "interpolate": "monotone"},
                 "encoding": {
                   "x": {"field": "shift", "type": "quantitative", "scale": {"domain": [130, 190], "nice": false, "zero": false}, "axis": {"orient": "bottom", "values": [140, 160, 180], "format": "d", "title": null}},
                   "y": {"field": "intensity", "type": "quantitative", "scale": {"domain": [-0.236, 5.478], "nice": false, "zero": false}, "axis": {"orient": "left", "values": [0, 1, 2, 3, 4, 5], "labels": false, "title": "Relative Raman Intensity", "titleX": -21, "titleY": 145.3, "titleAngle": -90, "titleAlign": "center", "titleBaseline": "bottom", "titleFontSize": 20.5, "titleFontWeight": "normal", "titleColor": "#555555", "titleFont": "Liberation Sans"}},
                   "color": {"field": "sample", "type": "nominal", "scale": {"domain": ["Ag-SWCNT", "Pristine SWCNT"], "range": ["#e8202a", "#111111"]}, "legend": null},
                   "strokeDash": {"field": "sample", "type": "nominal", "scale": {"domain": ["Ag-SWCNT", "Pristine SWCNT"], "range": [[1, 0], [6, 3]]}, "legend": null}
                 }},
                {"data": {"values": [{}]}, "mark": {"type": "text", "text": "RBM", "align": "left", "baseline": "alphabetic", "fontSize": 21, "fontStyle": "italic", "fontWeight": "bold", "font": "Liberation Sans", "color": "#111111"},
                 "encoding": {
                   "x": {"datum": 134.5, "type": "quantitative", "axis": {"orient": "top", "values": [140, 160, 180], "labels": false, "title": null}},
                   "y": {"datum": 4.9, "type": "quantitative", "axis": {"orient": "right", "values": [0, 1, 2, 3, 4, 5], "labels": false, "title": null}}
                 }}
              ],
              "resolve": {"axis": {"x": "independent", "y": "independent"}}
            },
            {
              "width": 208.5, "height": 290.6,
              "layer": [
                {"data": {"name": "dg532"}, "mark": {"type": "line", "clip": true, "strokeWidth": 2, "interpolate": "monotone"},
                 "encoding": {
                   "x": {"field": "shift", "type": "quantitative", "scale": {"domain": [1150, 1700], "nice": false, "zero": false}, "axis": {"orient": "bottom", "values": [1200, 1350, 1500, 1650], "format": "d", "title": "Raman Shift (cm⁻¹)", "titleX": 104.25, "titleY": 45.5, "titleAlign": "center", "titleBaseline": "top", "titleFontSize": 20, "titleFontWeight": "normal", "titleColor": "#333333", "titleFont": "Liberation Sans"}},
                   "y": {"field": "intensity", "type": "quantitative", "scale": {"domain": [-0.236, 5.478], "nice": false, "zero": false}, "axis": {"orient": "left", "values": [0, 1, 2, 3, 4, 5], "labels": false, "title": null}},
                   "color": {"field": "sample", "type": "nominal", "scale": {"domain": ["Ag-SWCNT", "Pristine SWCNT"], "range": ["#e8202a", "#111111"]}, "legend": null},
                   "strokeDash": {"field": "sample", "type": "nominal", "scale": {"domain": ["Ag-SWCNT", "Pristine SWCNT"], "range": [[1, 0], [6, 3]]}, "legend": null}
                 }},
                {"data": {"values": [{}]}, "mark": {"type": "text", "text": "D", "align": "left", "baseline": "alphabetic", "fontSize": 21, "fontStyle": "italic", "fontWeight": "bold", "font": "Liberation Sans", "color": "#111111"},
                 "encoding": {
                   "x": {"datum": 1189.6, "type": "quantitative", "axis": {"orient": "top", "values": [1200, 1350, 1500, 1650], "labels": false, "title": null}},
                   "y": {"datum": 4.9, "type": "quantitative", "axis": {"orient": "right", "values": [0, 1, 2, 3, 4, 5], "labels": false, "title": null}}
                 }},
                {"data": {"values": [{}]}, "mark": {"type": "text", "text": "G", "align": "right", "baseline": "alphabetic", "fontSize": 21, "fontStyle": "italic", "fontWeight": "bold", "font": "Liberation Sans", "color": "#111111"},
                 "encoding": {"x": {"datum": 1672, "type": "quantitative", "axis": null}, "y": {"datum": 4.9, "type": "quantitative", "axis": null}}}
              ],
              "resolve": {"axis": {"x": "independent", "y": "independent"}}
            },
            {
              "width": 100.5, "height": 290.6,
              "layer": [
                {"data": {"name": "gp532"}, "mark": {"type": "line", "clip": true, "strokeWidth": 2, "interpolate": "monotone"},
                 "encoding": {
                   "x": {"field": "shift", "type": "quantitative", "scale": {"domain": [2500, 2800], "nice": false, "zero": false}, "axis": {"orient": "bottom", "values": [2600, 2750], "format": "d", "title": null}},
                   "y": {"field": "intensity", "type": "quantitative", "scale": {"domain": [-0.236, 5.478], "nice": false, "zero": false}, "axis": {"orient": "left", "values": [0, 1, 2, 3, 4, 5], "labels": false, "title": null}},
                   "color": {"field": "sample", "type": "nominal", "scale": {"domain": ["Ag-SWCNT", "Pristine SWCNT"], "range": ["#e8202a", "#111111"]}, "legend": null},
                   "strokeDash": {"field": "sample", "type": "nominal", "scale": {"domain": ["Ag-SWCNT", "Pristine SWCNT"], "range": [[1, 0], [6, 3]]}, "legend": null}
                 }},
                {"data": {"values": [{}]}, "mark": {"type": "text", "text": "G'", "align": "left", "baseline": "alphabetic", "fontSize": 21, "fontStyle": "italic", "fontWeight": "bold", "font": "Liberation Sans", "color": "#111111"},
                 "encoding": {
                   "x": {"datum": 2537, "type": "quantitative", "axis": {"orient": "top", "values": [2600, 2750], "labels": false, "title": null}},
                   "y": {"datum": 4.9, "type": "quantitative", "axis": {"orient": "right", "values": [0, 1, 2, 3, 4, 5], "labels": false, "title": null}}
                 }}
              ],
              "resolve": {"axis": {"x": "independent", "y": "independent"}}
            }
          ],
          "spacing": 5, "bounds": "flush"
        },
        {
          "hconcat": [
            {
              "width": 99.5, "height": 290.6,
              "layer": [
                {"data": {"name": "rbm785"}, "mark": {"type": "line", "clip": true, "strokeWidth": 2, "interpolate": "monotone"},
                 "encoding": {
                   "x": {"field": "shift", "type": "quantitative", "scale": {"domain": [130, 189], "nice": false, "zero": false}, "axis": {"orient": "bottom", "values": [140, 160, 180], "format": "d", "title": null}},
                   "y": {"field": "intensity", "type": "quantitative", "scale": {"domain": [-0.017, 3.857], "nice": false, "zero": false}, "axis": {"orient": "left", "values": [0, 1, 2, 3], "labels": false, "title": null}},
                   "color": {"field": "sample", "type": "nominal", "scale": {"domain": ["Ag-SWCNT", "Pristine SWCNT"], "range": ["#e8202a", "#111111"]}, "legend": null},
                   "strokeDash": {"field": "sample", "type": "nominal", "scale": {"domain": ["Ag-SWCNT", "Pristine SWCNT"], "range": [[1, 0], [6, 3]]}, "legend": null}
                 }},
                {"data": {"values": [{}]}, "mark": {"type": "text", "text": "RBM", "align": "left", "baseline": "alphabetic", "fontSize": 21, "fontStyle": "italic", "fontWeight": "bold", "font": "Liberation Sans", "color": "#111111"},
                 "encoding": {
                   "x": {"datum": 135.3, "type": "quantitative", "axis": {"orient": "top", "values": [140, 160, 180], "labels": false, "title": null}},
                   "y": {"datum": 3.47, "type": "quantitative", "axis": {"orient": "right", "values": [0, 1, 2, 3], "labels": false, "title": null}}
                 }},
                {"data": {"values": [{}]}, "mark": {"type": "text", "text": "×1/7", "align": "left", "baseline": "alphabetic", "fontSize": 20, "fontStyle": "italic", "fontWeight": "bold", "font": "Liberation Sans", "color": "#111111"},
                 "encoding": {"x": {"datum": 162, "type": "quantitative", "axis": null}, "y": {"datum": 2.53, "type": "quantitative", "axis": null}}}
              ],
              "resolve": {"axis": {"x": "independent", "y": "independent"}}
            },
            {
              "width": 209, "height": 290.6,
              "layer": [
                {"data": {"name": "dg785"}, "mark": {"type": "line", "clip": true, "strokeWidth": 2, "interpolate": "monotone"},
                 "encoding": {
                   "x": {"field": "shift", "type": "quantitative", "scale": {"domain": [1145, 1700], "nice": false, "zero": false}, "axis": {"orient": "bottom", "values": [1200, 1350, 1500, 1650], "format": "d", "title": "Raman Shift (cm⁻¹)", "titleX": 104.5, "titleY": 45.5, "titleAlign": "center", "titleBaseline": "top", "titleFontSize": 20, "titleFontWeight": "normal", "titleColor": "#333333", "titleFont": "Liberation Sans"}},
                   "y": {"field": "intensity", "type": "quantitative", "scale": {"domain": [-0.236, 5.478], "nice": false, "zero": false}, "axis": {"orient": "left", "values": [0, 1, 2, 3, 4, 5], "labels": false, "title": null}},
                   "color": {"field": "sample", "type": "nominal", "scale": {"domain": ["Ag-SWCNT", "Pristine SWCNT"], "range": ["#e8202a", "#111111"]}, "legend": null},
                   "strokeDash": {"field": "sample", "type": "nominal", "scale": {"domain": ["Ag-SWCNT", "Pristine SWCNT"], "range": [[1, 0], [6, 3]]}, "legend": null}
                 }},
                {"data": {"values": [{}]}, "mark": {"type": "text", "text": "D", "align": "left", "baseline": "alphabetic", "fontSize": 21, "fontStyle": "italic", "fontWeight": "bold", "font": "Liberation Sans", "color": "#111111"},
                 "encoding": {
                   "x": {"datum": 1189, "type": "quantitative", "axis": {"orient": "top", "values": [1200, 1350, 1500, 1650], "labels": false, "title": null}},
                   "y": {"datum": 4.9, "type": "quantitative", "axis": {"orient": "right", "values": [0, 1, 2, 3, 4, 5], "labels": false, "title": null}}
                 }},
                {"data": {"values": [{}]}, "mark": {"type": "text", "text": "G", "align": "right", "baseline": "alphabetic", "fontSize": 21, "fontStyle": "italic", "fontWeight": "bold", "font": "Liberation Sans", "color": "#111111"},
                 "encoding": {"x": {"datum": 1671, "type": "quantitative", "axis": null}, "y": {"datum": 4.9, "type": "quantitative", "axis": null}}}
              ],
              "resolve": {"axis": {"x": "independent", "y": "independent"}}
            },
            {
              "width": 102, "height": 290.6,
              "layer": [
                {"data": {"name": "gp785"}, "mark": {"type": "line", "clip": true, "strokeWidth": 2, "interpolate": "monotone"},
                 "encoding": {
                   "x": {"field": "shift", "type": "quantitative", "scale": {"domain": [2407, 2693], "nice": false, "zero": false}, "axis": {"orient": "bottom", "values": [2500, 2650], "format": "d", "title": null}},
                   "y": {"field": "intensity", "type": "quantitative", "scale": {"domain": [-0.236, 5.478], "nice": false, "zero": false}, "axis": {"orient": "left", "values": [0, 1, 2, 3, 4, 5], "labels": false, "title": null}},
                   "color": {"field": "sample", "type": "nominal", "scale": {"domain": ["Ag-SWCNT", "Pristine SWCNT"], "range": ["#e8202a", "#111111"]}, "legend": null},
                   "strokeDash": {"field": "sample", "type": "nominal", "scale": {"domain": ["Ag-SWCNT", "Pristine SWCNT"], "range": [[1, 0], [6, 3]]}, "legend": null}
                 }},
                {"data": {"values": [{}]}, "mark": {"type": "text", "text": "G'", "align": "left", "baseline": "alphabetic", "fontSize": 21, "fontStyle": "italic", "fontWeight": "bold", "font": "Liberation Sans", "color": "#111111"},
                 "encoding": {
                   "x": {"datum": 2449, "type": "quantitative", "axis": {"orient": "top", "values": [2500, 2650], "labels": false, "title": null}},
                   "y": {"datum": 4.9, "type": "quantitative", "axis": {"orient": "right", "values": [0, 1, 2, 3, 4, 5], "labels": false, "title": null}}
                 }},
                {"data": {"values": [{}]}, "mark": {"type": "rect", "fill": null, "stroke": "#1010ee", "strokeWidth": 5.5, "clip": false},
                 "encoding": {
                   "x": {"datum": 133, "type": "quantitative", "axis": null}, "x2": {"datum": 2734},
                   "y": {"datum": -1.4, "type": "quantitative", "axis": null}, "y2": {"datum": 12.33}
                 }}
              ],
              "resolve": {"axis": {"x": "independent", "y": "independent"}}
            }
          ],
          "spacing": 4.5, "bounds": "flush"
        }
      ],
      "spacing": 454.5, "bounds": "flush"
    }
  ],
  "spacing": 338.2, "bounds": "flush",
  "config": {
    "view": {"stroke": "#222222", "strokeWidth": 2},
    "axis": {"domain": false, "grid": false, "ticks": true, "tickSize": -6, "tickWidth": 1.8, "tickColor": "#222222", "labelFont": "Liberation Sans", "labelFontSize": 18.5, "labelColor": "#333333", "labelPadding": 18, "labelOverlap": false, "labelFlush": false, "labelBound": false}
  }
}
